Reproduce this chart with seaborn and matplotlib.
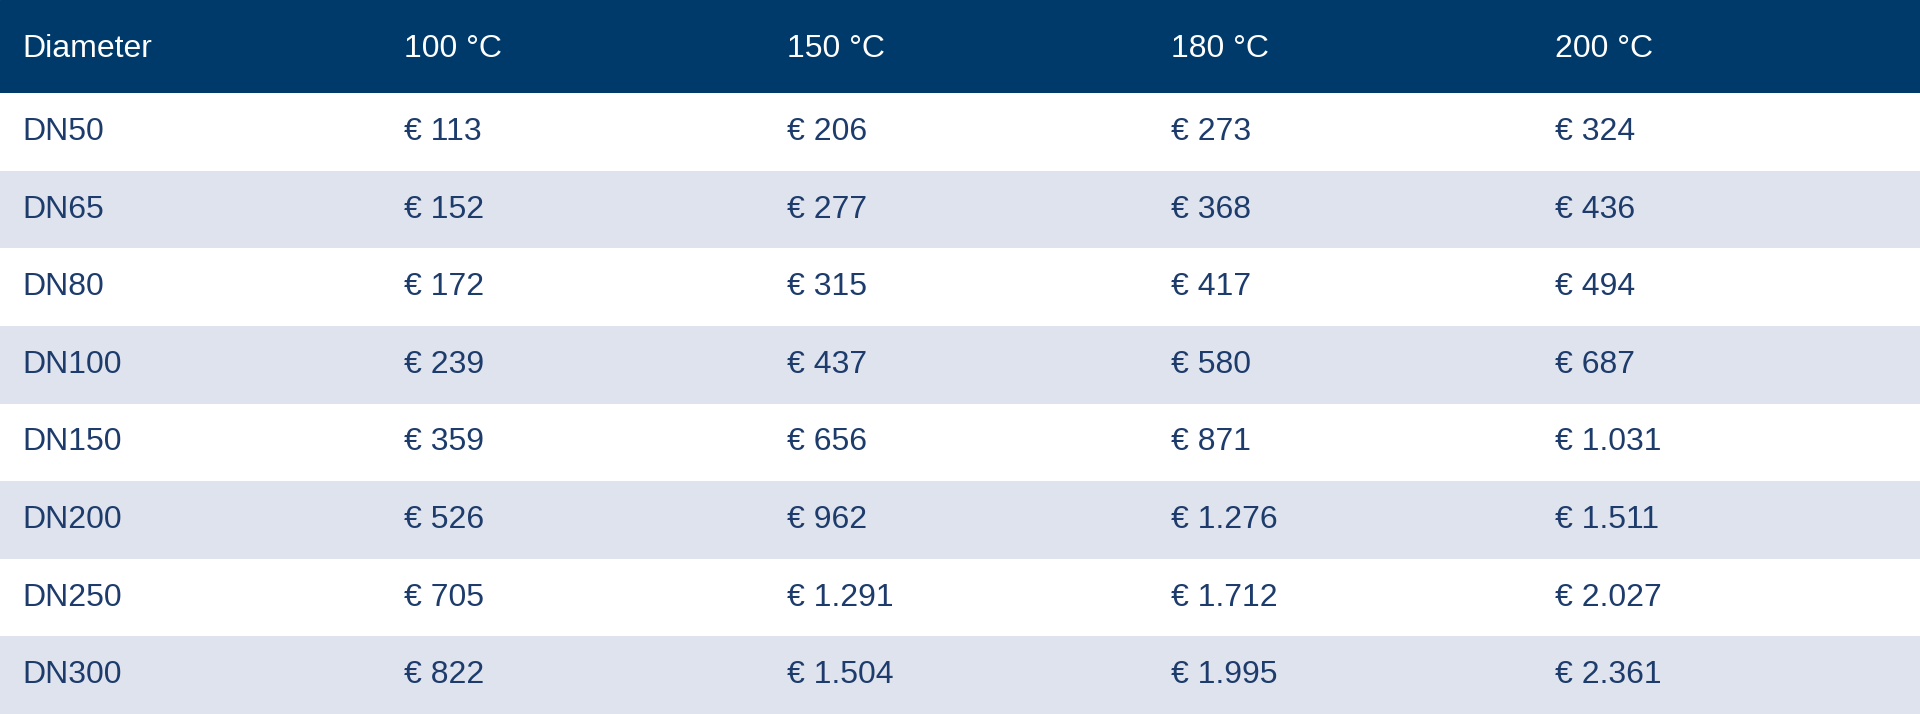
import matplotlib.pyplot as plt
from matplotlib.colors import ListedColormap
import seaborn as sns
import numpy as np

headers = ["Diameter", "100 °C", "150 °C", "180 °C", "200 °C"]
diameters = ["DN50", "DN65", "DN80", "DN100", "DN150", "DN200", "DN250", "DN300"]
price_100 = ["113", "152", "172", "239", "359", "526", "705", "822"]
price_150 = ["206", "277", "315", "437", "656", "962", "1.291", "1.504"]
price_180 = ["273", "368", "417", "580", "871", "1.276", "1.712", "1.995"]
price_200 = ["324", "436", "494", "687", "1.031", "1.511", "2.027", "2.361"]

navy = "#003a6a"
text_col = "#1d3c6c"
band = "#dfe3ee"

sns.set_theme(style="white")
plt.rcParams['font.family'] = ['Liberation Sans', 'DejaVu Sans']

fig = plt.figure(figsize=(19.2, 7.14), dpi=100)
head_h = 0.1305
ax_h = fig.add_axes([0, 1 - head_h, 1, head_h])
ax_b = fig.add_axes([0, 0, 1, 1 - head_h])

col_x = [0.0115, 0.2105, 0.41, 0.610, 0.810]

# header
ax_h.set_facecolor(navy)
ax_h.set_xlim(0, 1)
ax_h.set_ylim(0, 1)
for x, h in zip(col_x, headers):
    ax_h.text(x, 0.47, h, color="white", fontsize=23, va="center", ha="left")
ax_h.axis("off")
ax_h.add_patch(plt.Rectangle((0, 0), 1, 1, color=navy, zorder=0))

# body bands via heatmap
parity = np.array([[i % 2] for i in range(len(diameters))])
sns.heatmap(parity, ax=ax_b, cmap=ListedColormap(["white", band]), cbar=False,
            xticklabels=False, yticklabels=False, vmin=0, vmax=1)
columns = [diameters] + [["€ " + v for v in p] for p in (price_100, price_150, price_180, price_200)]
for x, col in zip(col_x, columns):
    for i, v in enumerate(col):
        ax_b.text(x, i + 0.5, v, color=text_col, fontsize=23, va="center", ha="left")
ax_b.set_xlim(0, 1)
ax_b.axis("off")

fig.savefig("out.png", dpi=100)
